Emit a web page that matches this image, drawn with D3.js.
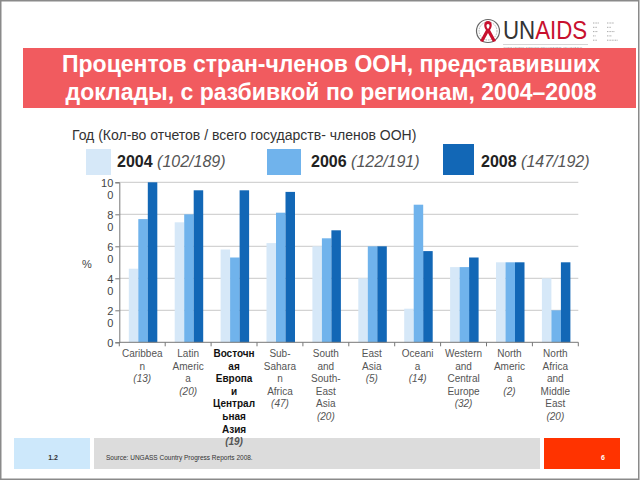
<!DOCTYPE html>
<html><head><meta charset="utf-8">
<script src="https://cdn.jsdelivr.net/npm/d3@7"></script>
<style>body{margin:0;background:#fff}svg{display:block;font-family:"Liberation Sans",Arial,sans-serif}</style>
</head><body>
<script>
const titleLines = ["Процентов стран-членов ООН, представивших", "доклады, с разбивкой по регионам, 2004–2008"];
const subtitle = "Год (Кол-во отчетов / всего государств- членов ООН)";
const years = ["2004", "2006", "2008"];
const yearCounts = ["(102/189)", "(122/191)", "(147/192)"];
const categories = [
  ["Caribbea","n"],
  ["Latin","Americ","a"],
  ["Восточн","ая","Европа","и","Централ","ьная","Азия"],
  ["Sub-","Saharа","n","Africa"],
  ["South","and","South-","East","Asia"],
  ["East","Asia"],
  ["Oceani","a"],
  ["Western","and","Central","Europe"],
  ["North","Americ","a"],
  ["North","Africa","and","Middle","East"]
];
const boldCategory = [false,false,true,false,false,false,false,false,false,false];
const categoryCounts = ["(13)","(20)","(19)","(47)","(20)","(5)","(14)","(32)","(2)","(20)"];
const values2004 = [46, 75, 58, 62, 60, 40, 21, 47, 50, 40];
const values2006 = [77, 80, 53, 81, 65, 60, 86, 47, 50, 20];
const values2008 = [100, 95, 95, 94, 70, 60, 57, 53, 50, 50];
const yTicks = [0, 20, 40, 60, 80, 100];
const yTickLabels = [["0"],["2","0"],["4","0"],["6","0"],["8","0"],["10","0"]];
const colors = ["#d6e8f8", "#70b3ec", "#1267b6"];
const footerLeft = "1.2";
const footerSource = "Source: UNGASS Country Progress Reports 2008.";
const footerPage = "6";
// logo cosponsor block (illegible in the reference): widths of the tiny word marks per row, two columns
const cosponsorMarksA = [6, 4, 5, 3, 4];
const cosponsorMarksB = [7, 4, 8, 5, 11];

const W = 640, H = 480;
const svg = d3.select("body").append("svg").attr("width", W).attr("height", H);

// frame
svg.append("rect").attr("x",0.75).attr("y",0.75).attr("width",W-2).attr("height",H-1.5)
  .attr("fill","#fff").attr("stroke","#8a8a8a").attr("stroke-width",1.5);

// footer (drawn first, labels overlap it)
svg.append("rect").attr("x",14).attr("y",438).attr("width",76).attr("height",31).attr("fill","#cde8fb");
svg.append("rect").attr("x",94).attr("y",438).attr("width",446).attr("height",31).attr("fill","#dcdcdc");
svg.append("rect").attr("x",544).attr("y",438).attr("width",76).attr("height",31).attr("fill","#ff3300");
svg.append("text").attr("x",53).attr("y",460).attr("text-anchor","middle").attr("font-size",7).attr("font-weight","bold").attr("fill","#333").text(footerLeft);
svg.append("text").attr("x",106).attr("y",460).attr("font-size",6.5).attr("fill","#333").text(footerSource);
svg.append("text").attr("x",603).attr("y",460).attr("text-anchor","middle").attr("font-size",7).attr("font-weight","bold").attr("fill","#fff").text(footerPage);

// logo
const logo = svg.append("g");
logo.append("circle").attr("cx",488).attr("cy",31).attr("r",11.5).attr("fill","none").attr("stroke","#666").attr("stroke-width",1.2);
logo.append("circle").attr("cx",488).attr("cy",31).attr("r",9).attr("fill","none").attr("stroke","#999").attr("stroke-width",0.8).attr("stroke-dasharray","1.5,1");
logo.append("path").attr("d","M488,21 C484,21 483,26 486,30 L480,41 L483,42 L488,33 L493,42 L496,41 L490,30 C493,26 492,21 488,21 Z M488,24 C490,24 490,27 488,29 C486,27 486,24 488,24 Z")
  .attr("fill","#c8102e");
logo.append("text").attr("transform","translate(503,38.5) scale(1,1.15)").attr("font-size",22.3)
  .selectAll("tspan").data([["UN","#333"],["AIDS","#c8102e"]]).join("tspan").attr("fill",d=>d[1]).text(d=>d[0]);
logo.append("line").attr("x1",503).attr("x2",588).attr("y1",44.5).attr("y2",44.5).attr("stroke","#aaa").attr("stroke-width",0.5);
logo.append("text").attr("x",503).attr("y",49.5).attr("font-size",3.2).attr("fill","#888").text("JOINT UNITED NATIONS PROGRAMME ON HIV/AIDS");
[[cosponsorMarksA,593],[cosponsorMarksB,607]].forEach(([list,xx])=>{
  logo.selectAll(null).data(list).join("line")
    .attr("x1",xx).attr("x2",d=>xx+d).attr("y1",(d,i)=>23+i*4.3).attr("y2",(d,i)=>23+i*4.3)
    .attr("stroke","#aaa").attr("stroke-width",1).attr("stroke-dasharray","1,0.6");
});

// title bar
svg.append("rect").attr("x",23).attr("y",48).attr("width",613).attr("height",60).attr("fill","#f15b5f");
svg.append("g").selectAll("text").data(titleLines).join("text")
  .attr("x",331).attr("y",(d,i)=>72+i*28).attr("text-anchor","middle")
  .attr("font-size",23).attr("font-weight","bold").attr("fill","#fff").text(d=>d);

// subtitle
svg.append("text").attr("x",72).attr("y",140).attr("font-size",14).attr("fill","#333").text(subtitle);

// legend
const legendSw = [{x:86,y:149,w:25,h:26},{x:267,y:149,w:34,h:26},{x:443,y:144,w:31,h:31}];
const legendTx = [117, 311, 481];
years.forEach((yv,i)=>{
  const s = legendSw[i];
  svg.append("rect").attr("x",s.x).attr("y",s.y).attr("width",s.w).attr("height",s.h).attr("fill",colors[i]);
  const t = svg.append("text").attr("x",legendTx[i]).attr("y",167).attr("font-size",16);
  t.append("tspan").attr("font-weight","bold").attr("fill","#222").text(yv+" ");
  t.append("tspan").attr("font-style","italic").attr("fill","#555").text(yearCounts[i]);
});

// chart
const x0 = d3.scaleBand().domain(d3.range(categories.length)).range([119.3, 578.3]).padding(0);
const x1 = d3.scaleBand().domain(years).range([9.5, 38]).padding(0);
const y = d3.scaleLinear().domain([0, 100]).range([342.3, 182.3]);

const g = svg.append("g");
g.selectAll("line.grid").data(yTicks.filter(t=>t>0)).join("line").attr("class","grid")
  .attr("x1",119.3).attr("x2",578.3).attr("y1",d=>y(d)).attr("y2",d=>y(d))
  .attr("stroke","#c8c8c8").attr("stroke-width",1);

const series = [values2004, values2006, values2008];
categories.forEach((c,ci)=>{
  years.forEach((yr,si)=>{
    const v = series[si][ci];
    g.append("rect").attr("x",x0(ci)+x1(yr)).attr("width",x1.bandwidth())
      .attr("y",y(v)).attr("height",y(0)-y(v)).attr("fill",colors[si]);
  });
});

const yAxis = g.append("g").attr("transform","translate(119.3,0)")
  .call(d3.axisLeft(y).tickValues(yTicks).tickSize(4).tickFormat(""));
yAxis.select(".domain").attr("stroke","#777");
yAxis.selectAll(".tick line").attr("stroke","#777");
yAxis.selectAll(".tick").each(function(d,i){
  const t = d3.select(this).append("text").attr("x",-6).attr("text-anchor","end")
    .attr("font-size",11).attr("fill","#444");
  yTickLabels[i].forEach((ln,k)=>{
    t.append("tspan").attr("x",-6).attr("y",4+k*12.4).text(ln);
  });
});
svg.append("text").attr("x",87).attr("y",268).attr("text-anchor","middle").attr("font-size",11).attr("fill","#444").text("%");

const xAxis = g.append("g").attr("transform","translate(0,342.3)");
xAxis.append("line").attr("x1",119.3).attr("x2",578.3).attr("stroke","#777");
xAxis.selectAll("line.tk").data(d3.range(categories.length+1)).join("line").attr("class","tk")
  .attr("x1",d=>d<categories.length?x0(d):x0(categories.length-1)+x0.bandwidth())
  .attr("x2",d=>d<categories.length?x0(d):x0(categories.length-1)+x0.bandwidth())
  .attr("y1",0).attr("y2",4).attr("stroke","#777");

categories.forEach((lines,ci)=>{
  const cx = x0(ci)+x0.bandwidth()/2;
  const t = svg.append("text").attr("text-anchor","middle").attr("font-size",10);
  lines.forEach((ln,k)=>{
    t.append("tspan").attr("x",cx).attr("y",357+k*12.6)
      .attr("fill",boldCategory[ci]?"#111":"#555")
      .attr("font-weight",boldCategory[ci]?"bold":"normal").text(ln);
  });
  t.append("tspan").attr("x",cx).attr("y",357+lines.length*12.6)
    .attr("fill","#555").attr("font-style","italic").attr("font-weight",boldCategory[ci]?"bold":"normal").text(categoryCounts[ci]);
});
</script>
</body></html>
